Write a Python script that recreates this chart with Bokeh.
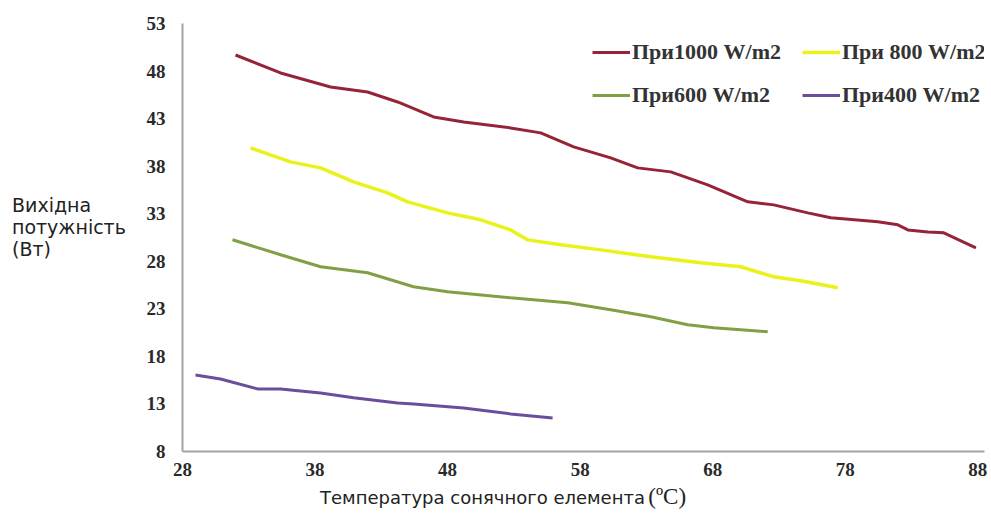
from bokeh.plotting import figure
from bokeh.models import Legend, LegendItem, FixedTicker, Range1d, Div
from bokeh.layouts import row, column
from bokeh.embed import file_html
from bokeh.resources import INLINE

# ---- data ----
t_1000 = [32.0, 35.4, 39.17, 41.96, 44.23, 46.94, 49.21, 52.75, 55.02, 57.51, 60.3, 62.34,
          64.83, 67.62, 70.64, 72.6, 75.17, 76.91, 80.45, 81.96, 82.72, 84.23, 85.43, 87.85]
p_1000 = [49.69, 47.8, 46.33, 45.8, 44.75, 43.18, 42.65, 42.02, 41.5, 40.03, 38.87, 37.82,
          37.4, 36.03, 34.25, 33.93, 33.09, 32.57, 32.15, 31.83, 31.3, 31.09, 30.99, 29.41]

t_800 = [33.13, 36.15, 38.42, 40.91, 43.47, 44.98, 48.0, 50.49, 52.75, 54.04, 56.53, 59.55,
         63.32, 67.09, 70.11, 72.6, 74.64, 77.43]
p_800 = [39.92, 38.45, 37.82, 36.35, 35.2, 34.25, 33.09, 32.36, 31.3, 30.25, 29.73, 29.2,
         28.47, 27.84, 27.42, 26.37, 25.95, 25.21]

t_600 = [31.77, 35.4, 38.42, 41.96, 45.43, 48.0, 52.75, 57.06, 60.3, 63.32, 66.11, 68.08, 72.15]
p_600 = [30.26, 28.69, 27.42, 26.79, 25.32, 24.79, 24.17, 23.64, 22.9, 22.17, 21.33, 21.01, 20.59]

t_400 = [28.98, 30.87, 33.66, 35.4, 38.42, 40.91, 44.23, 45.43, 49.21, 52.75, 55.92]
p_400 = [16.05, 15.63, 14.58, 14.58, 14.16, 13.64, 13.11, 13.0, 12.58, 11.95, 11.53]

series_labels = ["При1000 W/m2", "При 800 W/m2", "При600 W/m2", "При400 W/m2"]
x_ticks = [28, 38, 48, 58, 68, 78, 88]
y_ticks = [8, 13, 18, 23, 28, 33, 38, 43, 48, 53]
y_title_lines = ["Вихідна", "потужність", "(Вт)"]
x_title = "Температура сонячного елемента"
x_unit = "(ºC)"

colors = ["#952536", "#EAF219", "#7FA044", "#6A4E9C"]

p = figure(frame_width=802, frame_height=428,
           x_range=Range1d(28, 88.5), y_range=Range1d(8, 53),
           output_backend="svg", toolbar_location=None,
           min_border_left=42, min_border_right=4, min_border_top=23, min_border_bottom=30)
p.outline_line_color = None
p.xgrid.visible = False
p.ygrid.visible = False
p.background_fill_color = "white"
p.border_fill_color = "white"

for ax, ticks in ((p.xaxis[0], x_ticks), (p.yaxis[0], y_ticks)):
    ax.ticker = FixedTicker(ticks=ticks)
    ax.axis_line_color = "#A3A3A3"
    ax.axis_line_width = 2
    ax.major_tick_line_color = None
    ax.minor_tick_line_color = None
    ax.major_label_text_font = "Liberation Serif"
    ax.major_label_text_font_style = "bold"
    ax.major_label_text_font_size = "19px"
    ax.major_label_text_color = "#2a2a2a"
p.xaxis.major_label_standoff = 5
p.yaxis.major_label_standoff = 11

r1 = p.line(t_1000, p_1000, line_color=colors[0], line_width=3)
r2 = p.line(t_800, p_800, line_color=colors[1], line_width=3.5)
r3 = p.line(t_600, p_600, line_color=colors[2], line_width=3)
r4 = p.line(t_400, p_400, line_color=colors[3], line_width=3)

# row-major order for a 2x2 legend (legend fills columns first)
legend = Legend(items=[LegendItem(label=series_labels[0], renderers=[r1]),
                       LegendItem(label=series_labels[2], renderers=[r3]),
                       LegendItem(label=series_labels[1], renderers=[r2]),
                       LegendItem(label=series_labels[3], renderers=[r4])],
                ncols=2, location=(410, 342), padding=0, margin=0,
                border_line_color=None, background_fill_alpha=0,
                glyph_width=38, glyph_height=28, label_height=28, label_width=155,
                label_standoff=2, spacing=15,
                label_text_font="Liberation Serif", label_text_font_style="bold",
                label_text_font_size="22px", label_text_color="#333333")
p.add_layout(legend)

ydiv = Div(text='<div style="font-family:\'DejaVu Sans\';font-size:19px;line-height:22px;'
                'color:#222;white-space:nowrap">' + "<br>".join(y_title_lines) + '</div>',
           width=128, margin=(194, 0, 0, 12))
xdiv = Div(text='<div style="white-space:nowrap;color:#222;line-height:28px">'
                '<span style="font-family:\'DejaVu Sans\';font-size:18px">' + x_title + '</span>&nbsp;'
                '<span style="font-family:\'Liberation Serif\';font-size:23px">' + x_unit + '</span></div>',
           width=560, margin=(2, 0, 0, 320))

layout = column(row(ydiv, p, spacing=0), xdiv, spacing=0)
open("out.html", "w").write(file_html(layout, INLINE))
